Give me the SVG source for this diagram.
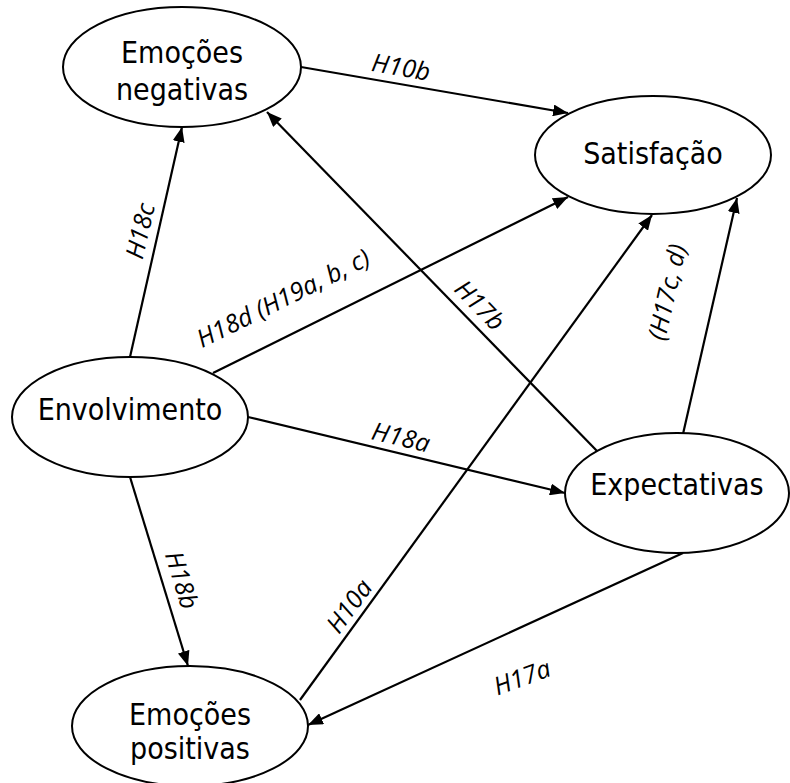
<svg xmlns="http://www.w3.org/2000/svg" width="790" height="783" viewBox="0 0 790 783">
<defs>
<style>
.node ellipse{fill:#fff;stroke:#000;stroke-width:2}
.node text{font-family:"DejaVu Sans Condensed","DejaVu Sans",sans-serif;font-stretch:condensed;font-size:30px;fill:#000;text-anchor:middle}
.edges line{stroke:#000;stroke-width:2.2;fill:none}
.lbl{font-family:"Open Sans",sans-serif;font-style:italic;font-size:25px;fill:#000;text-anchor:middle}
</style>
<marker id="arr" markerUnits="userSpaceOnUse" markerWidth="16" markerHeight="12" refX="15" refY="6" orient="auto">
<path d="M0,0 L15,6 L0,12 z" fill="#000"/>
</marker>
</defs>
<rect width="790" height="783" fill="#fff"/>
<g class="edges">
<line x1="301" y1="67" x2="568" y2="113" marker-end="url(#arr)"/>
<line x1="130" y1="357" x2="182" y2="127" marker-end="url(#arr)"/>
<line x1="213" y1="373" x2="568" y2="197" marker-end="url(#arr)"/>
<line x1="598" y1="452" x2="267" y2="112" marker-end="url(#arr)"/>
<line x1="683" y1="434" x2="737" y2="198" marker-end="url(#arr)"/>
<line x1="248" y1="417" x2="565" y2="493" marker-end="url(#arr)"/>
<line x1="300" y1="700" x2="652" y2="215" marker-end="url(#arr)"/>
<line x1="130" y1="477" x2="188" y2="666" marker-end="url(#arr)"/>
<line x1="683" y1="553" x2="308" y2="725" marker-end="url(#arr)"/>
<text class="lbl" transform="translate(401,67) rotate(9.8)" y="9">H10b</text>
<text class="lbl" transform="translate(140,231) rotate(-77)" y="9">H18c</text>
<text class="lbl" transform="translate(283,298) rotate(-26.4)" y="9">H18d (H19a, b, c)</text>
<text class="lbl" transform="translate(480,305) rotate(45.8)" y="9">H17b</text>
<text class="lbl" transform="translate(667,292) rotate(-77)" y="9">(H17c, d)</text>
<text class="lbl" transform="translate(401,437) rotate(13.5)" y="9">H18a</text>
<text class="lbl" transform="translate(349,606) rotate(-54)" y="9">H10a</text>
<text class="lbl" transform="translate(182,580) rotate(73)" y="9">H18b</text>
<text class="lbl" transform="translate(522,677) rotate(-20)" y="9">H17a</text>
</g>
<g id="emocoes-negativas" class="node">
<ellipse cx="182" cy="67" rx="119" ry="60"/>
<text x="182" y="63">Emoções</text>
<text x="182" y="100">negativas</text>
</g>
<g id="satisfacao" class="node">
<ellipse cx="653" cy="155" rx="118" ry="59"/>
<text x="653" y="164">Satisfação</text>
</g>
<g id="envolvimento" class="node">
<ellipse cx="130" cy="417" rx="118" ry="60"/>
<text x="130" y="420">Envolvimento</text>
</g>
<g id="expectativas" class="node">
<ellipse cx="677" cy="493" rx="112" ry="60"/>
<text x="677" y="495">Expectativas</text>
</g>
<g id="emocoes-positivas" class="node">
<ellipse cx="190" cy="726" rx="118" ry="60"/>
<text x="190" y="725">Emoções</text>
<text x="190" y="759">positivas</text>
</g>
</svg>
